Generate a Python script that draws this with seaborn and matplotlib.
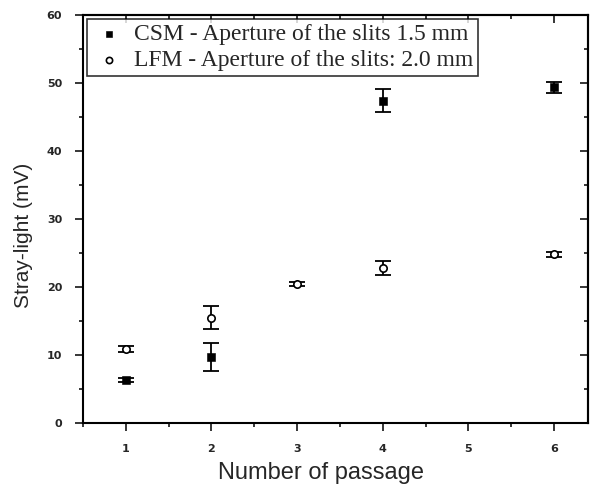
import matplotlib
matplotlib.use("Agg")
import matplotlib.pyplot as plt
import seaborn as sns
import pandas as pd
from matplotlib.ticker import MultipleLocator

# data
csm_x = [1, 2, 4, 6]
csm_y = [6.3, 9.7, 47.4, 49.4]
csm_err = [0.3, 2.1, 1.7, 0.8]
lfm_x = [1, 2, 3, 4, 6]
lfm_y = [10.9, 15.5, 20.4, 22.8, 24.8]
lfm_err = [0.4, 1.7, 0.3, 1.0, 0.4]
labels = ["CSM - Aperture of the slits 1.5 mm", "LFM - Aperture of the slits: 2.0 mm"]

sns.set_style("ticks")
fig = plt.figure(figsize=(5.93, 4.88), dpi=100)
ax = fig.add_axes([0.140, 0.133, 0.852, 0.836])

df = pd.concat([
    pd.DataFrame({"x": csm_x, "y": csm_y, "s": labels[0]}),
    pd.DataFrame({"x": lfm_x, "y": lfm_y, "s": labels[1]}),
])

ax.errorbar(csm_x, csm_y, yerr=csm_err, fmt="none", ecolor="black", elinewidth=1.3, capsize=5.5, capthick=1.3, zorder=2)
ax.errorbar(lfm_x, lfm_y, yerr=lfm_err, fmt="none", ecolor="black", elinewidth=1.3, capsize=5.5, capthick=1.3, zorder=2)
sns.scatterplot(data=df[df.s == labels[0]], x="x", y="y", ax=ax, marker="s", color="black",
                edgecolor="black", s=28, label=labels[0], zorder=3)
sns.scatterplot(data=df[df.s == labels[1]], x="x", y="y", ax=ax, marker="o", facecolor="white",
                edgecolor="black", linewidth=1.2, s=28, label=labels[1], zorder=3)

ax.set_xlim(0.5, 6.4)
ax.set_ylim(0, 60)
ax.xaxis.set_major_locator(MultipleLocator(1))
ax.xaxis.set_minor_locator(MultipleLocator(0.5))
ax.yaxis.set_major_locator(MultipleLocator(10))
ax.yaxis.set_minor_locator(MultipleLocator(5))
for s in ax.spines.values():
    s.set_visible(True)
    s.set_linewidth(1.5)
    s.set_color("black")
ax.tick_params(which="both", direction="out", top=False, right=False, width=1.3, pad=9)
ax.tick_params(which="major", length=6)
ax.tick_params(which="minor", length=3)
for t in ax.get_xticklabels() + ax.get_yticklabels():
    t.set_fontweight("bold")
    t.set_fontsize(8)

# inward ticks on top and right
top = ax.secondary_xaxis("top")
top.xaxis.set_major_locator(MultipleLocator(1))
top.xaxis.set_minor_locator(MultipleLocator(0.5))
top.tick_params(which="both", direction="in", labeltop=False, width=1.3)
top.tick_params(which="major", length=6)
top.tick_params(which="minor", length=3)
right = ax.secondary_yaxis("right")
right.yaxis.set_major_locator(MultipleLocator(10))
right.yaxis.set_minor_locator(MultipleLocator(5))
right.tick_params(which="both", direction="in", labelright=False, width=1.3)
right.tick_params(which="major", length=6)
right.tick_params(which="minor", length=3)
for sa in (top, right):
    for s in sa.spines.values():
        s.set_linewidth(1.5)

ax.set_xlabel("Number of passage", fontsize=17, family="Liberation Sans")
ax.set_ylabel("Stray-light (mV)", fontsize=15, family="Liberation Sans")
ax.xaxis.set_label_coords(0.471, -0.095)
ax.yaxis.set_label_coords(-0.099, 0.46)

leg = ax.legend(loc="upper left", prop={"family": "Liberation Serif", "size": 17}, frameon=True,
                fancybox=False, edgecolor="black", borderaxespad=0.15, handletextpad=0.3,
                borderpad=0.2, labelspacing=0.2, markerscale=0.85, handlelength=1.5)
leg.get_frame().set_linewidth(1.2)

fig.savefig("out.png", dpi=100)
